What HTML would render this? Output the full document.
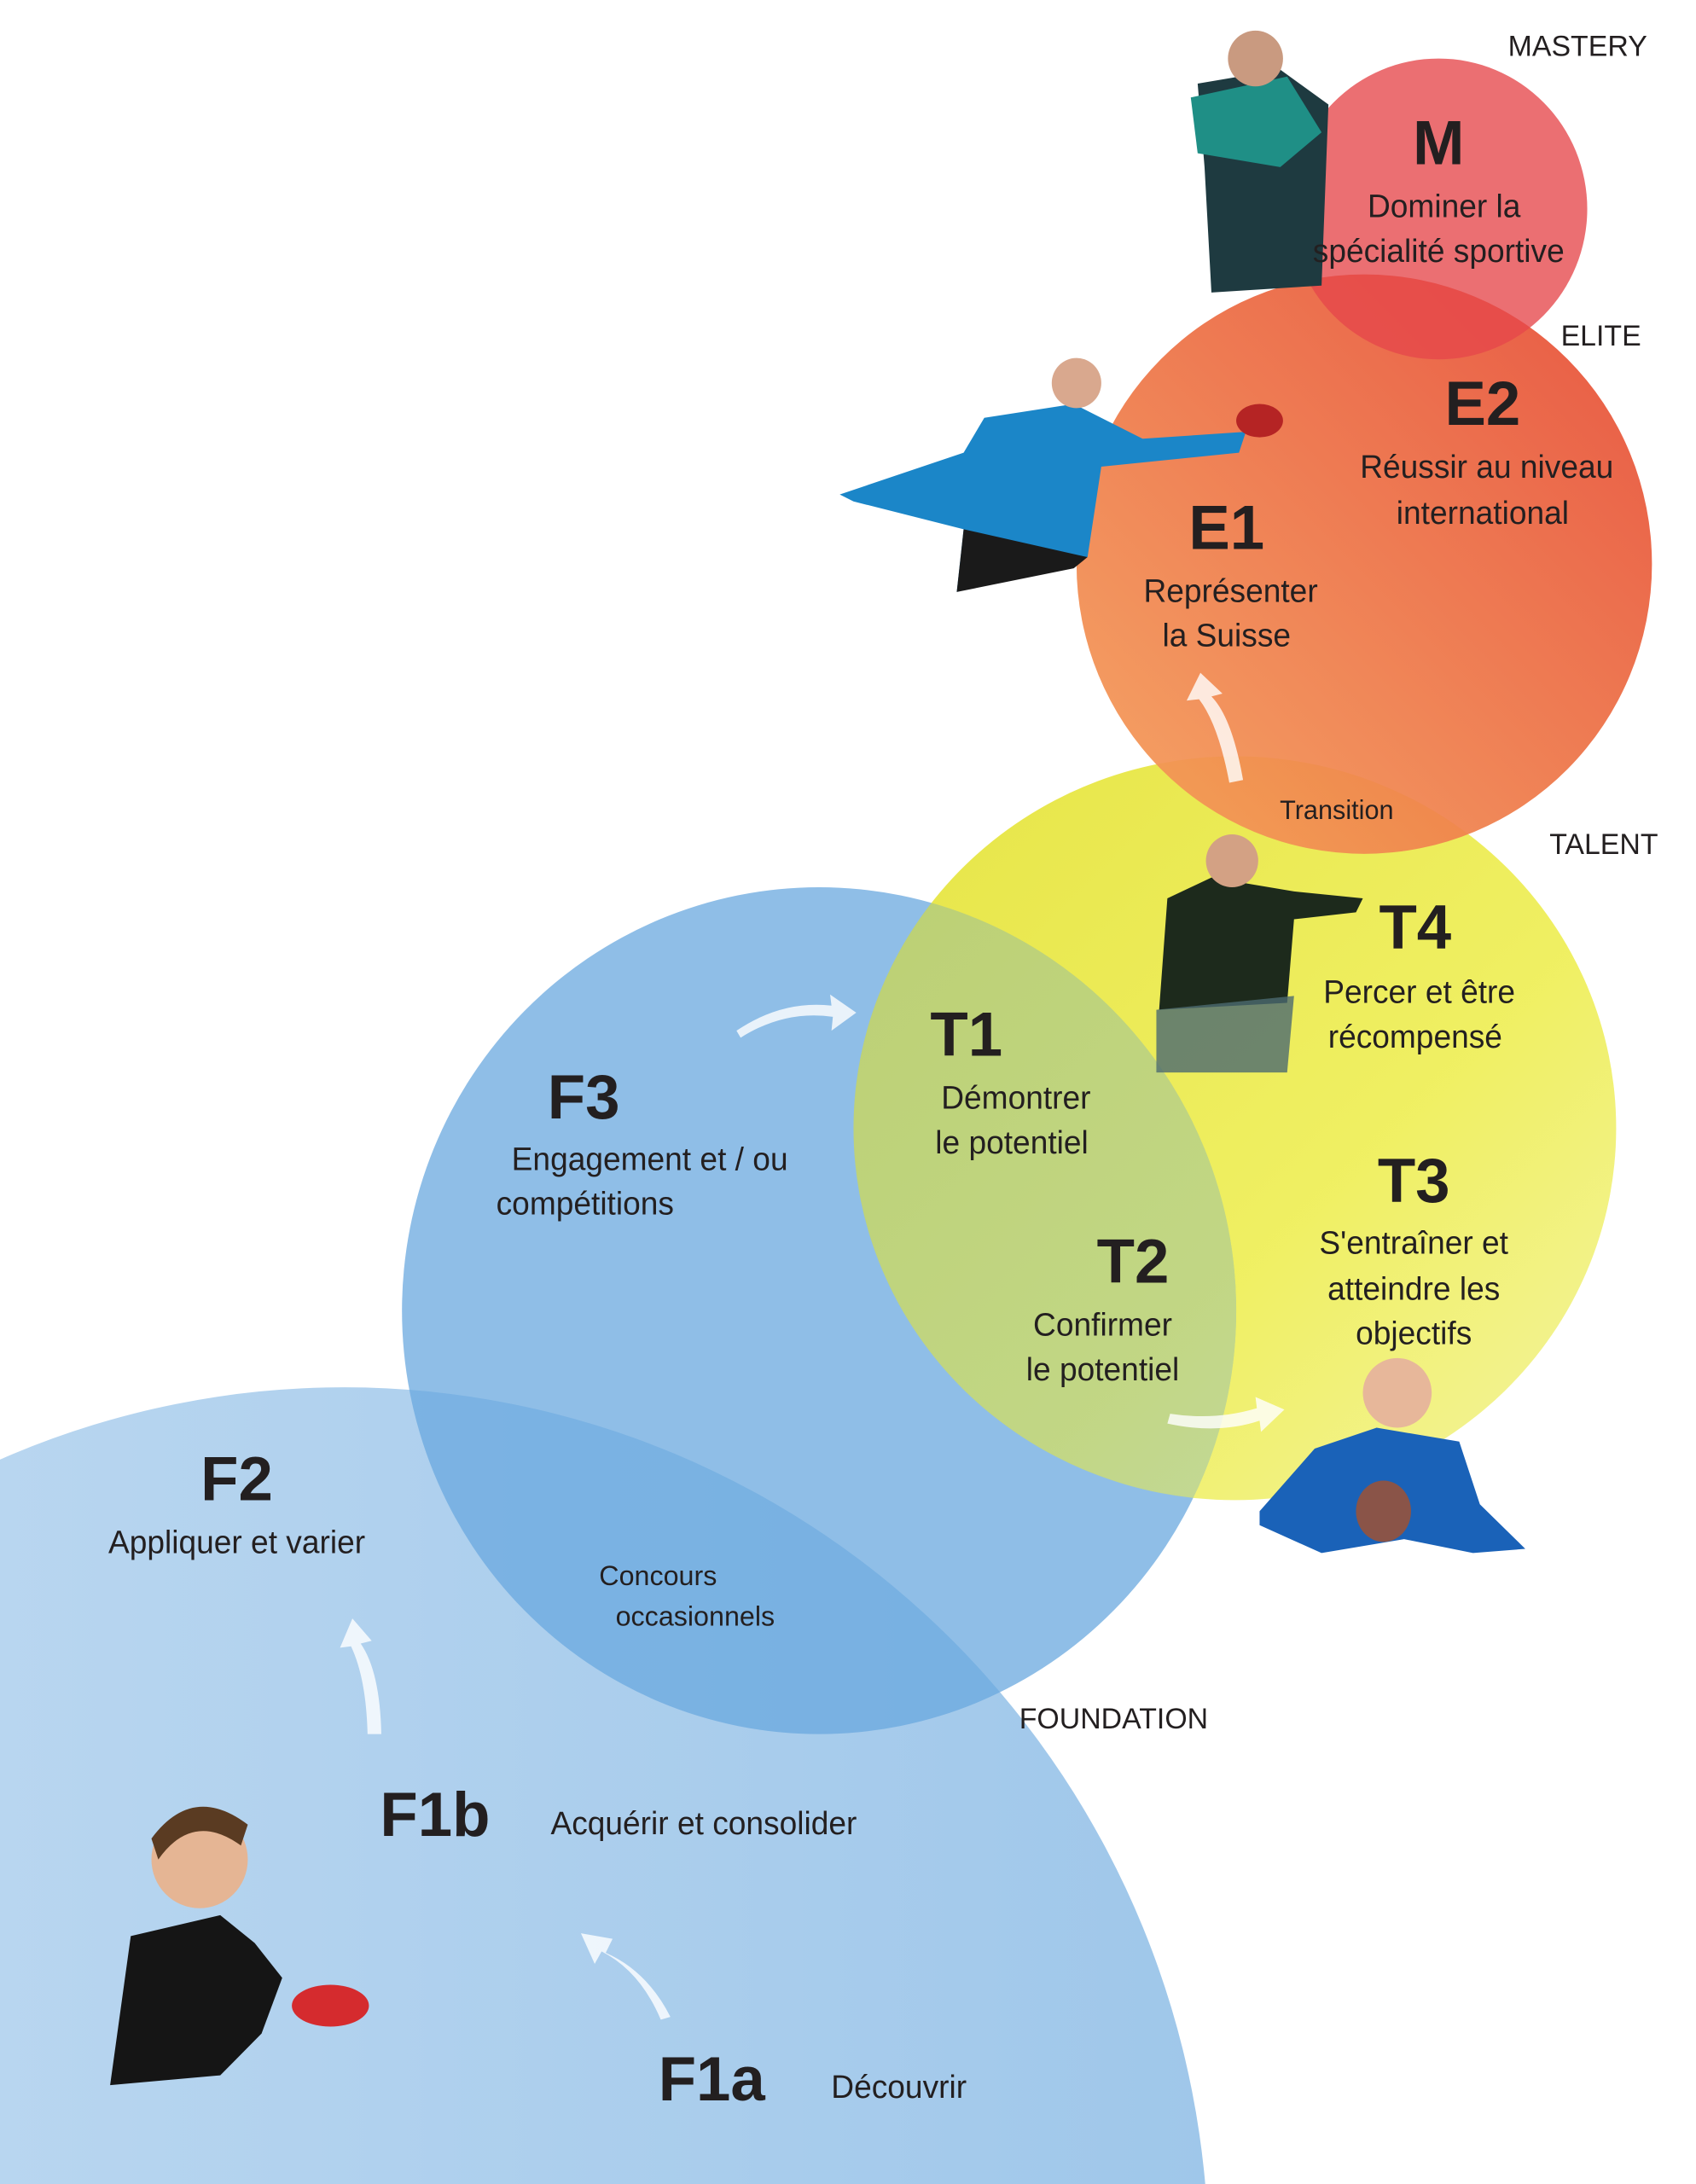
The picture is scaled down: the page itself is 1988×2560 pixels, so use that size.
<!DOCTYPE html>
<html><head><meta charset="utf-8"><style>
html,body{margin:0;padding:0;background:#fff;width:1988px;height:2560px;overflow:hidden}
svg{display:block}
text{font-family:"Liberation Sans","DejaVu Sans",sans-serif;fill:#231f20}
.h{font-weight:bold;font-size:45px;text-anchor:middle}
.b{font-size:23px;text-anchor:middle}
.l{font-size:21px;text-anchor:middle}
</style></head><body>
<svg width="1988" height="2560" viewBox="0 0 1232 1568" preserveAspectRatio="none" xmlns="http://www.w3.org/2000/svg">
<defs>
<linearGradient id="gf" x1="0" y1="0" x2="1" y2="0"><stop offset="0" stop-color="#c3dcf2"/><stop offset="1" stop-color="#9fc7ea"/></linearGradient>
<linearGradient id="gt" x1="0" y1="0" x2="1" y2="1"><stop offset="0" stop-color="#e4e236"/><stop offset="0.6" stop-color="#eeee55"/><stop offset="1" stop-color="#f3f39a"/></linearGradient>
<linearGradient id="ge" x1="0" y1="1" x2="1" y2="0"><stop offset="0" stop-color="#f5a05a"/><stop offset="1" stop-color="#e64a35"/></linearGradient>
<clipPath id="cf3"><ellipse cx="595" cy="941" rx="303" ry="304"/></clipPath>
</defs>
<ellipse cx="250" cy="1624" rx="628" ry="628" fill="url(#gf)"/>
<ellipse cx="897" cy="810" rx="277" ry="267" fill="url(#gt)" opacity="0.92"/>
<ellipse cx="991" cy="405" rx="209" ry="208" fill="url(#ge)" opacity="0.93"/>
<ellipse cx="595" cy="941" rx="303" ry="304" fill="#6aa8df" opacity="0.75"/>
<ellipse cx="897" cy="810" rx="277" ry="267" fill="url(#gt)" opacity="0.55" clip-path="url(#cf3)"/>
<ellipse cx="1045" cy="150" rx="108" ry="108" fill="#e5474a" opacity="0.78"/>

<g>
<path d="M870 60 L930 50 L965 75 L960 205 L880 210 L875 120 Z" fill="#1e3a40"/>
<path d="M865 70 L935 55 L960 95 L930 120 L870 110 Z" fill="#1f8f86"/>
<circle cx="912" cy="42" r="20" fill="#c99a80"/>
<path d="M610 355 L700 325 L715 300 L780 290 L830 315 L905 310 L900 325 L800 335 L790 400 L695 425 L700 380 L620 360 Z" fill="#1b86c8"/>
<circle cx="782" cy="275" r="18" fill="#d9a88e"/>
<path d="M700 380 L790 400 L780 408 L695 425 Z" fill="#1a1a1a"/>
<ellipse cx="915" cy="302" rx="17" ry="12" fill="#b52424"/>
<path d="M848 645 L880 630 L940 640 L990 645 L985 655 L940 660 L935 720 L842 725 Z" fill="#1d2a1c"/>
<path d="M840 725 L940 715 L935 770 L840 770 Z" fill="#4c6a70" opacity="0.8"/>
<circle cx="895" cy="618" r="19" fill="#d3a184"/>
<path d="M915 1085 L955 1040 L1000 1025 L1060 1035 L1075 1080 L1108 1112 L1070 1115 L1020 1105 L960 1115 L915 1095 Z" fill="#1a62b8"/>
<circle cx="1015" cy="1000" r="25" fill="#e7b79a"/>
<ellipse cx="1005" cy="1085" rx="20" ry="22" fill="#8a5448"/>
<path d="M95 1390 L160 1375 L185 1395 L205 1420 L190 1460 L160 1490 L80 1497 Z" fill="#151515"/>
<circle cx="145" cy="1335" r="35" fill="#e5b594"/>
<path d="M110 1320 Q140 1280 180 1310 L175 1325 Q140 1300 115 1335 Z" fill="#5a3b22"/>
<ellipse cx="240" cy="1440" rx="28" ry="15" fill="#d52b2e"/>
</g>

<g fill="#ffffff" opacity="0.8">
<path d="M487 1448 Q470 1415 440 1402 L445 1392 L422 1388 L432 1410 L437 1401 Q465 1415 480 1450 Z"/>
<path d="M277 1245 Q276 1200 262 1180 L270 1178 L256 1162 L247 1183 L255 1182 Q266 1205 267 1245 Z"/>
<path d="M538 745 Q570 725 605 730 L604 740 L622 727 L603 714 L604 722 Q568 718 535 740 Z"/>
<path d="M848 1022 Q885 1030 915 1020 L916 1028 L933 1012 L912 1003 L913 1011 Q883 1020 850 1015 Z"/>
<path d="M903 560 Q895 515 880 500 L888 498 L872 483 L862 503 L871 502 Q885 520 893 562 Z"/>
</g>

<text class="l" x="1146" y="40">MASTERY</text>
<text class="l" x="1163" y="248">ELITE</text>
<text class="l" x="1165" y="613">TALENT</text>
<text class="l" x="809" y="1241">FOUNDATION</text>

<text class="h" x="1045" y="118">M</text>
<text class="b" x="1049" y="156">Dominer la</text>
<text class="b" x="1045" y="188">spécialité sportive</text>

<text class="h" x="1077" y="305">E2</text>
<text class="b" x="1080" y="343">Réussir au niveau</text>
<text class="b" x="1077" y="376">international</text>

<text class="h" x="891" y="394">E1</text>
<text class="b" x="894" y="432">Représenter</text>
<text class="b" x="891" y="464">la Suisse</text>

<text x="971" y="588" style="font-size:19px;text-anchor:middle">Transition</text>

<text class="h" x="1028" y="681">T4</text>
<text class="b" x="1031" y="720">Percer et être</text>
<text class="b" x="1028" y="752">récompensé</text>

<text class="h" x="702" y="758">T1</text>
<text class="b" x="738" y="796">Démontrer</text>
<text class="b" x="735" y="828">le potentiel</text>

<text class="h" x="424" y="803">F3</text>
<text class="b" x="472" y="840">Engagement et / ou</text>
<text class="b" x="425" y="872">compétitions</text>

<text class="h" x="1027" y="863">T3</text>
<text class="b" x="1027" y="900">S'entraîner et</text>
<text class="b" x="1027" y="933">atteindre les</text>
<text class="b" x="1027" y="965">objectifs</text>

<text class="h" x="823" y="921">T2</text>
<text class="b" x="801" y="959">Confirmer</text>
<text class="b" x="801" y="991">le potentiel</text>

<text class="h" x="172" y="1077">F2</text>
<text class="b" x="172" y="1115">Appliquer et varier</text>

<text x="478" y="1138" style="font-size:20px;text-anchor:middle">Concours</text>
<text x="505" y="1167" style="font-size:20px;text-anchor:middle">occasionnels</text>

<text class="h" x="316" y="1318">F1b</text>
<text class="b" x="400" y="1317" style="text-anchor:start">Acquérir et consolider</text>

<text class="h" x="517" y="1508">F1a</text>
<text class="b" x="653" y="1506">Découvrir</text>
</svg>
</body></html>
